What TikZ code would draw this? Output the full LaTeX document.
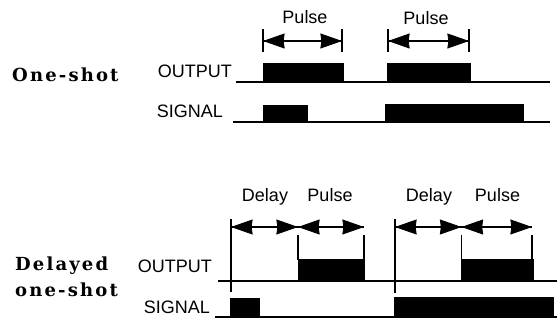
\documentclass[tikz,border=0pt]{standalone}
\usepackage{fontspec}
\newfontfamily\sansfont{Liberation Sans}
\newfontfamily\slabfont{DejaVu Serif Bold}[LetterSpace=12]
\tikzset{
  lbl/.style={font=\sansfont\fontsize{18}{20}\selectfont, inner sep=0pt},
  ttl/.style={font=\slabfont\fontsize{18}{20}\selectfont, inner sep=0pt},
  wave/.style={line width=2.4pt},
  blk/.style={fill=black, draw=black, line width=0.8pt},
  bar/.style={line width=1.8pt},
  shaft/.style={line width=1.4pt},
  headstyle/.style={fill=black, draw=black, line width=0.8pt, line join=miter}
}
\newcommand\dimarr[2]{%
  \draw[shaft] (#1) -- (#2);
  \fill[headstyle] ([xshift=1.2pt]#1) -- ++(20pt,7pt) -- ++(-1pt,-7pt) -- ++(1pt,-7pt) -- cycle;
  \fill[headstyle] ([xshift=-1.2pt]#2) -- ++(-20pt,7pt) -- ++(1pt,-7pt) -- ++(-1pt,-7pt) -- cycle;}
\begin{document}
\begin{tikzpicture}[x=1pt,y=-1pt]
\useasboundingbox (0,0) rectangle (557,320);
% ---------- titles ----------
\node[ttl, anchor=base west] (t1) at (12,82) {One-shot};
\node[ttl, anchor=base west] (t2) at (15,271) {Delayed};
\node[ttl, anchor=base west] (t3) at (15,297) {one-shot};
% ---------- upper labels ----------
\node[lbl, anchor=base east] (out1) at (232,78) {OUTPUT};
\node[lbl, anchor=base east] (sig1) at (223,118) {SIGNAL};
\node[lbl, anchor=base] (p1) at (305,24) {Pulse};
\node[lbl, anchor=base] (p2) at (426,25) {Pulse};
% ---------- upper waveforms ----------
\draw[wave] (236,82) -- (550,82);
\fill[blk] (263,63) rectangle (343,82);
\fill[blk] (387,63) rectangle (470,82);
\draw[wave] (233,122) -- (550,122);
\fill[blk] (263,105) rectangle (307,122);
\fill[blk] (385,104) rectangle (523,122);
% ---------- upper dimension bars ----------
\coordinate (a1) at (263,41); \coordinate (a2) at (342,41);
\coordinate (a3) at (388,41); \coordinate (a4) at (469,41);
\foreach \c in {a1,a2,a3,a4} \draw[bar] ([yshift=-11pt]\c) -- ([yshift=12pt]\c);
\dimarr{a1}{a2}
\dimarr{a3}{a4}
% ---------- lower labels ----------
\node[lbl, anchor=base east] (out2) at (212,273) {OUTPUT};
\node[lbl, anchor=base east] (sig2) at (210,314) {SIGNAL};
\node[lbl, anchor=base] (d1) at (265,202) {Delay};
\node[lbl, anchor=base] (p3) at (330,202) {Pulse};
\node[lbl, anchor=base] (d2) at (429,202) {Delay};
\node[lbl, anchor=base] (p4) at (497.5,202) {Pulse};
% ---------- lower waveforms ----------
\draw[wave] (218,281) -- (557,281);
\fill[blk] (298,259) rectangle (364,281);
\fill[blk] (461,259) rectangle (533,281);
\draw[wave] (215,317) -- (557,317);
\fill[blk] (230,298) rectangle (259,317);
\fill[blk] (394,297) rectangle (553,317);
% ---------- lower dimension bars ----------
\coordinate (b1) at (231,227); \coordinate (b2) at (298,227);
\coordinate (b3) at (364,227); \coordinate (b4) at (395,227);
\coordinate (b5) at (461.5,227); \coordinate (b6) at (532,227);
\draw[bar] (231,219) -- (231,292);
\draw[bar] (395,219) -- (395,293);
\foreach \c in {b2,b3,b5,b6} \draw[bar] ([yshift=-8pt]\c) -- (\c |- 0,260);
\dimarr{b1}{b2}
\dimarr{b2}{b3}
\dimarr{b4}{b5}
\dimarr{b5}{b6}
\end{tikzpicture}
\end{document}
